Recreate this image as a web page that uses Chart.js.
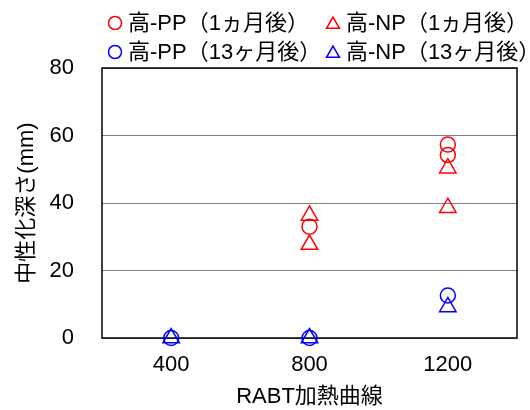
<!DOCTYPE html>
<html>
<head>
<meta charset="utf-8">
<script src="https://cdn.jsdelivr.net/npm/chart.js@4/dist/chart.umd.min.js"></script>
<style>
  html, body { margin: 0; padding: 0; background: #fff; }
  #wrap { width: 530px; height: 410px; }
</style>
</head>
<body>
<div id="wrap"><canvas id="myChart" width="530" height="410"></canvas></div>
<script>
// data
const categories = ['400', '800', '1200'];
const yTicks = [0, 20, 40, 60, 80];

const pp1X = ['800', '1200', '1200'];
const pp1Y = [33.0, 57.3, 54.2];
const np1X = ['800', '800', '1200', '1200'];
const np1Y = [36.3, 27.7, 50.3, 38.6];
const pp13X = ['400', '800', '1200'];
const pp13Y = [0, 0, 12.6];
const np13X = ['400', '800', '1200'];
const np13Y = [0, 0, 9.2];

const seriesNames = ['高-PP（1ヵ月後）', '高-NP（1ヵ月後）', '高-PP（13ヶ月後）', '高-NP（13ヶ月後）'];

const FONT = '"Liberation Sans", Arial, "Noto Sans CJK JP", sans-serif';

const toPoints = (xs, ys) => xs.map((x, i) => ({ x: x, y: ys[i] }));

const makeSet = (label, xs, ys, color, style) => ({
    label: label,
    data: toPoints(xs, ys),
    showLine: false,
    borderColor: color,
    backgroundColor: 'rgba(0,0,0,0)',
    pointBackgroundColor: 'rgba(0,0,0,0)',
    pointBorderColor: color,
    pointBorderWidth: 1.5,
    pointStyle: style,
    pointRadius: style === 'triangle' ? 9.5 : 7.5,
    pointHoverRadius: style === 'triangle' ? 9.5 : 7.5,
    clip: false,
});

// box around the plot area
const framePlugin = {
    id: 'frame',
    beforeDatasetsDraw(chart) {
        const { ctx, chartArea: a } = chart;
        ctx.save();
        ctx.strokeStyle = '#000';
        ctx.lineWidth = 1.5;
        ctx.strokeRect(a.left, a.top, a.right - a.left, a.bottom - a.top);
        ctx.restore();
    }
};

// two-column legend above the plot
const legendPlugin = {
    id: 'gridLegend',
    afterDraw(chart) {
        const { ctx } = chart;
        const cols = [115, 333];
        const rows = [23, 52];
        ctx.save();
        chart.data.datasets.forEach((ds, i) => {
            const cx = cols[i % 2];
            const cy = rows[Math.floor(i / 2)];
            ctx.strokeStyle = ds.pointBorderColor;
            ctx.fillStyle = 'rgba(0,0,0,0)';
            ctx.lineWidth = 1.5;
            Chart.helpers.drawPoint(ctx, {
                pointStyle: ds.pointStyle,
                radius: ds.pointStyle === 'triangle' ? 7.5 : 6.5,
                rotation: 0,
                borderWidth: 1.5,
            }, cx, ds.pointStyle === 'triangle' ? cy + 1.5 : cy);
            ctx.fillStyle = '#000';
            ctx.font = '22px ' + FONT;
            ctx.textBaseline = 'middle';
            ctx.textAlign = 'left';
            ctx.fillText(ds.label, cx + 13, cy + 1);
        });
        ctx.restore();
    }
};

const myChart = new Chart(document.getElementById('myChart'), {
    type: 'line',
    data: {
        labels: categories,
        datasets: [
            makeSet(seriesNames[0], pp1X, pp1Y, '#ff0000', 'circle'),
            makeSet(seriesNames[1], np1X, np1Y, '#ff0000', 'triangle'),
            makeSet(seriesNames[2], pp13X, pp13Y, '#0000ff', 'circle'),
            makeSet(seriesNames[3], np13X, np13Y, '#0000ff', 'triangle'),
        ],
    },
    options: {
        responsive: false,
        animation: false,
        maintainAspectRatio: false,
        layout: { padding: { top: 68, right: 13, left: 0, bottom: 0 } },
        plugins: {
            legend: { display: false },
            tooltip: { enabled: false },
        },
        scales: {
            x: {
                type: 'category',
                offset: true,
                grid: { display: false, drawTicks: false },
                border: { display: false },
                ticks: { color: '#000', font: { family: FONT, size: 22 }, padding: 14, maxRotation: 0 },
                title: { display: true, text: 'RABT加熱曲線', color: '#000', font: { family: FONT, size: 22 }, padding: { top: 0, bottom: 0 } },
                afterFit(scale) { scale.height = 72; },
            },
            y: {
                min: yTicks[0],
                max: yTicks[yTicks.length - 1],
                afterBuildTicks(scale) { scale.ticks = yTicks.map(v => ({ value: v })); },
                grid: { color: '#808080', lineWidth: 1, drawTicks: false },
                border: { display: false },
                ticks: { color: '#000', font: { family: FONT, size: 22 }, padding: 28 },
                title: { display: true, text: '中性化深さ(mm)', color: '#000', font: { family: FONT, size: 22 }, padding: { top: 14, bottom: 0 } },
                afterFit(scale) { scale.width = 102; },
            },
        },
    },
    plugins: [framePlugin, legendPlugin],
});
</script>
</body>
</html>
